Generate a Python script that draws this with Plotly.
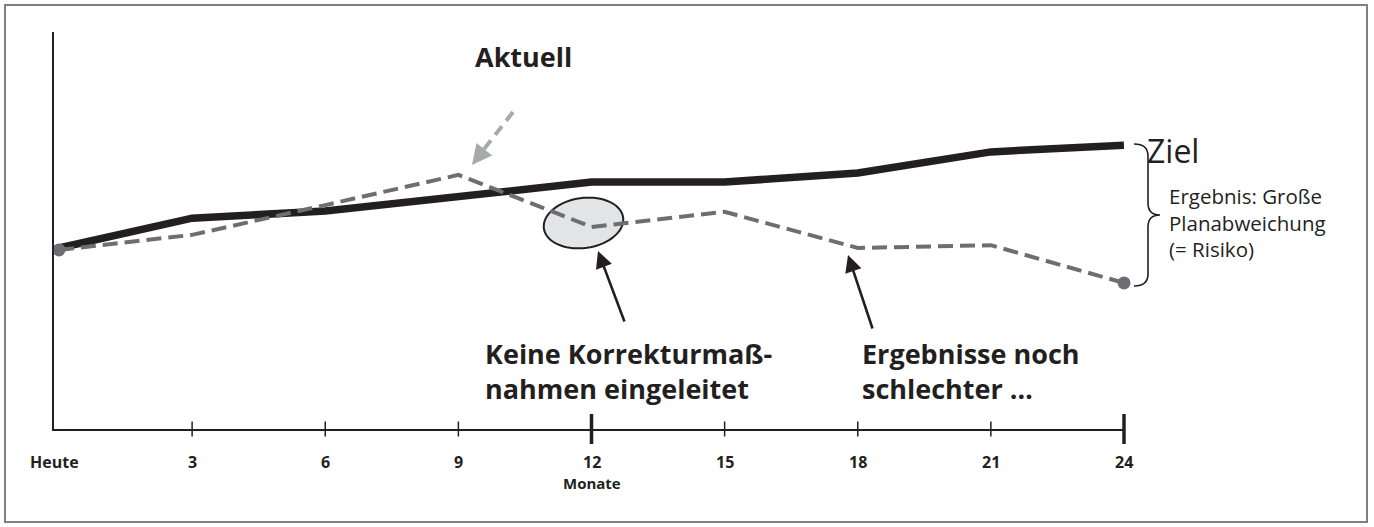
import math
import plotly.graph_objects as go

# ---------------- data ----------------
months = [0, 3, 6, 9, 12, 15, 18, 21, 24]
tick_labels = ["Heute", "3", "6", "9", "12", "15", "18", "21", "24"]
plan_values = [45.6, 53.1, 54.9, 58.6, 62.2, 62.2, 64.5, 69.8, 71.5]      # Ziel / Plan
actual_values = [45.1, 48.9, 56.4, 64.0, 50.9, 54.7, 45.6, 46.3, 36.8]    # Aktuell
major_ticks = [12, 24]

# ---------------- geometry helpers ----------------
W, H = 1374, 527
PX_L, PX_R, PY_T, PY_B = 54, 1124, 32, 429
X0, X1 = -0.1127, 24
Y0, Y1 = 0, 100


def px2x(px):
    return X0 + (px - PX_L) / (PX_R - PX_L) * (X1 - X0)


def py2y(py):
    return Y0 + (PY_B - py) / (PY_B - PY_T) * (Y1 - Y0)


def px2p(px):
    return (px - PX_L) / (PX_R - PX_L)


def py2p(py):
    return (PY_B - py) / (PY_B - PY_T)


def x2p(x):
    return (x - X0) / (X1 - X0)


DARK = "#231f20"
GREY = "#6d6e71"
LIGHT = "#a7a9ac"
FONT = "Open Sans"

fig = go.Figure()

fig.add_trace(go.Scatter(
    x=months, y=plan_values, mode="lines",
    line=dict(color=DARK, width=7.5), hoverinfo="skip", showlegend=False,
))
fig.add_trace(go.Scatter(
    x=months, y=actual_values, mode="lines",
    line=dict(color=GREY, width=4, dash="15px,7px"), hoverinfo="skip", showlegend=False,
))
fig.add_trace(go.Scatter(
    x=[months[0], months[-1]], y=[actual_values[0], actual_values[-1]], mode="markers",
    marker=dict(color=GREY, size=13), hoverinfo="skip", showlegend=False, cliponaxis=False,
))

shapes = []

# outer frame
shapes.append(dict(type="rect", xref="paper", yref="paper",
                   x0=px2p(5), x1=px2p(1367), y0=py2p(522), y1=py2p(5),
                   line=dict(color="#808080", width=2), layer="below"))

# ticks crossing the x axis
for m in months[1:]:
    big = m in major_ticks
    half = 15 if big else 7.5
    shapes.append(dict(type="line", xref="paper", yref="paper",
                       x0=x2p(m), x1=x2p(m), y0=py2p(PY_B + half), y1=py2p(PY_B - half),
                       line=dict(color=DARK, width=3.5 if big else 1.5)))

# ellipse (rotated) around the dip
cx, cy, rx, ry, phi = 583.5, 223, 40, 25, math.radians(-8)
pts = []
for i in range(73):
    t = 2 * math.pi * i / 72
    ex = cx + rx * math.cos(t) * math.cos(phi) - ry * math.sin(t) * math.sin(phi)
    ey = cy + rx * math.cos(t) * math.sin(phi) + ry * math.sin(t) * math.cos(phi)
    pts.append(f"{px2x(ex):.4f},{py2y(ey):.4f}")
shapes.append(dict(type="path", xref="x", yref="y", path="M " + " L ".join(pts) + " Z",
                   fillcolor="#e3e4e6", line=dict(color=DARK, width=2), layer="below"))

# brace
def bp(px, py):
    return f"{px2p(px):.5f},{py2p(py):.5f}"

brace = (f"M {bp(1134,144)} Q {bp(1148,144)} {bp(1148,156)} L {bp(1148,203)} "
         f"Q {bp(1148,215)} {bp(1160,215)} Q {bp(1148,215)} {bp(1148,227)} "
         f"L {bp(1148,274)} Q {bp(1148,286)} {bp(1134,286)}")
shapes.append(dict(type="path", xref="paper", yref="paper", path=brace,
                   line=dict(color=DARK, width=1.6)))

# dashed "Aktuell" arrow shaft
shapes.append(dict(type="line", xref="x", yref="y",
                   x0=px2x(513), y0=py2y(112), x1=px2x(481), y1=py2y(153),
                   line=dict(color=LIGHT, width=4, dash="11px,7px")))

annotations = []

# tick labels
for m, lab in zip(months, tick_labels):
    xp = px2p(PX_L) if m == 0 else x2p(m)
    annotations.append(dict(xref="paper", yref="paper", x=xp, y=py2p(462), text=lab,
                            showarrow=False, xanchor="center", yanchor="middle",
                            font=dict(family=FONT, size=16, color=DARK, weight="bold")))
annotations.append(dict(xref="paper", yref="paper", x=x2p(12), y=py2p(483), text="Monate",
                        showarrow=False, xanchor="center", yanchor="middle",
                        font=dict(family=FONT, size=15, color=DARK, weight="bold")))

BIG = 27
# Aktuell label + arrowhead
annotations.append(dict(xref="paper", yref="paper", x=px2p(523), y=py2p(57), text="Aktuell",
                        showarrow=False, xanchor="center", yanchor="middle",
                        font=dict(family=FONT, size=BIG, color=DARK, weight="bold")))
annotations.append(dict(xref="x", yref="y", x=px2x(472), y=py2y(165),
                        ax=px2x(483), ay=py2y(151), axref="x", ayref="y", text="",
                        showarrow=True, arrowhead=2, arrowsize=1, arrowwidth=4,
                        arrowcolor=LIGHT, standoff=0))

# black arrows
annotations.append(dict(xref="x", yref="y", x=px2x(598), y=py2y(251),
                        ax=px2x(625), ay=py2y(323), axref="x", ayref="y", text="",
                        showarrow=True, arrowhead=2, arrowsize=1.3, arrowwidth=2.6,
                        arrowcolor=DARK, standoff=0))
annotations.append(dict(xref="x", yref="y", x=px2x(848), y=py2y(255),
                        ax=px2x(873), ay=py2y(330), axref="x", ayref="y", text="",
                        showarrow=True, arrowhead=2, arrowsize=1.3, arrowwidth=2.6,
                        arrowcolor=DARK, standoff=0))

annotations.append(dict(xref="paper", yref="paper", x=px2p(483), y=py2p(371),
                        text="Keine Korrekturmaß-<br>nahmen eingeleitet", align="left",
                        showarrow=False, xanchor="left", yanchor="middle",
                        font=dict(family=FONT, size=BIG, color=DARK, weight="bold")))
annotations.append(dict(xref="paper", yref="paper", x=px2p(860), y=py2p(371),
                        text="Ergebnisse noch<br>schlechter …", align="left",
                        showarrow=False, xanchor="left", yanchor="middle",
                        font=dict(family=FONT, size=BIG, color=DARK, weight="bold")))

# right-hand side texts
annotations.append(dict(xref="paper", yref="paper", x=px2p(1145), y=py2p(150), text="Ziel",
                        showarrow=False, xanchor="left", yanchor="middle",
                        font=dict(family=FONT, size=32, color=DARK)))
annotations.append(dict(xref="paper", yref="paper", x=px2p(1167), y=py2p(223),
                        text="Ergebnis: Große<br>Planabweichung<br>(= Risiko)", align="left",
                        showarrow=False, xanchor="left", yanchor="middle",
                        font=dict(family=FONT, size=20.5, color=DARK)))

fig.update_layout(
    width=W, height=H,
    margin=dict(l=PX_L, r=W - PX_R, t=PY_T, b=H - PY_B, pad=0),
    paper_bgcolor="white", plot_bgcolor="white",
    shapes=shapes, annotations=annotations,
    xaxis=dict(range=[X0, X1], showline=True, linecolor=DARK, linewidth=2,
               showgrid=False, zeroline=False, showticklabels=False, ticks=""),
    yaxis=dict(range=[Y0, Y1], showline=True, linecolor=DARK, linewidth=2,
               showgrid=False, zeroline=False, showticklabels=False, ticks=""),
    font=dict(family=FONT, color=DARK),
)

fig.write_html("out.html", config={"displayModeBar": False, "staticPlot": True})

# remove the browser's default body margin so the figure sits at the page origin
with open("out.html", "r", encoding="utf-8") as f:
    html = f.read()
html = html.replace("<body>", '<body style="margin:0;padding:0;overflow:hidden;">', 1)
with open("out.html", "w", encoding="utf-8") as f:
    f.write(html)
